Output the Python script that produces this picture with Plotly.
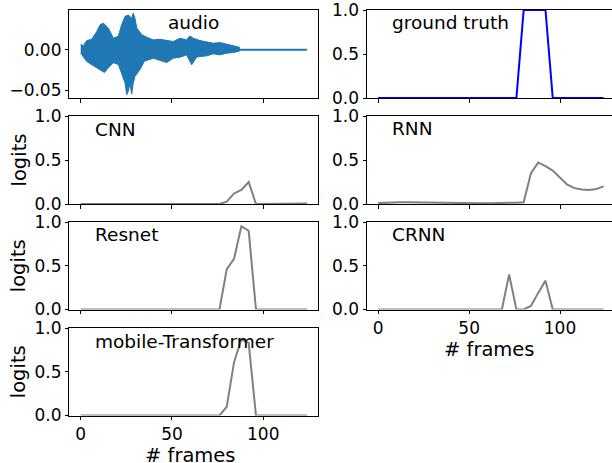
import plotly.graph_objects as go

# ---------------- data ----------------
frames = [0, 4, 8, 12, 16, 20, 24, 28, 32, 36, 40, 44, 48, 52, 56, 60,
          64, 68, 72, 76, 80, 84, 88, 92, 96, 100, 104, 108, 112, 116, 120, 124]

ground_truth = [0]*20 + [1, 1, 1, 1] + [0]*8

cnn = [0, 0, 0, 0, 0, 0, 0, 0, 0, 0, 0, 0, 0, 0, 0, 0,
       0, 0, 0, 0, 0.027, 0.12, 0.16, 0.25, 0, 0, 0, 0, 0, 0.002, 0.004, 0.005]

rnn = [0.01, 0.015, 0.02, 0.02, 0.02, 0.018, 0.016, 0.015, 0.013, 0.012, 0.01, 0.01,
       0.008, 0.008, 0.008, 0.008, 0.008, 0.01, 0.014, 0.015,
       0.02, 0.35, 0.47, 0.43, 0.38, 0.30, 0.22, 0.18, 0.165, 0.16, 0.17, 0.20]

resnet = [0, 0, 0, 0, 0, 0, 0, 0, 0, 0, 0, 0, 0, 0, 0, 0,
          0, 0, 0, 0, 0.46, 0.58, 0.95, 0.90, 0, 0, 0, 0, 0, 0.003, 0.005, 0]

crnn = [0, 0, 0, 0, 0, 0, 0, 0, 0, 0, 0, 0, 0, 0, 0, 0,
        0, 0, 0.40, 0, 0, 0.04, 0.19, 0.33, 0, 0, 0, 0, 0, 0, 0, 0]

transformer = [0, 0, 0.004, 0.005, 0.002, 0, 0, 0, 0, 0, 0, 0, 0, 0, 0, 0,
               0, 0, 0, 0, 0.10, 0.61, 0.87, 0.83, 0, 0, 0, 0, 0, 0, 0, 0]

# audio waveform envelope (in frame units)
audio_up_x = [0, 1.4, 3.3, 6.0, 8.75, 10.6, 12.4, 15.1, 17.9, 20.6, 22.4, 24.3, 26.1,
              27.9, 28.8, 29.7, 30.7, 33.4, 36.1, 39.8, 43.4, 47.1, 50.7, 54.4, 58.0,
              59.8, 61.7, 65.3, 69.0, 72.6, 76.3, 79.9, 83.6, 86.9]
audio_up = [0.007, 0.0049, 0.0115, 0.013, 0.0225, 0.031, 0.033, 0.027, 0.0144, 0.0168,
            0.031, 0.0414, 0.043, 0.039, 0.0455, 0.039, 0.027, 0.0189, 0.0156, 0.0123,
            0.0131, 0.0115, 0.0103, 0.0144, 0.0123, 0.0172, 0.0144, 0.0115, 0.0103,
            0.0082, 0.009, 0.007, 0.0049, 0.0033]
audio_lo_x = [0, 3.3, 6.0, 8.75, 10.6, 13.0, 15.1, 17.9, 20.6, 22.4, 24.3, 25.2, 26.1,
              27.0, 27.9, 28.8, 29.7, 32.5, 34.9, 39.8, 43.4, 47.1, 50.7, 54.4, 58.0,
              60.8, 63.5, 65.3, 69.0, 72.6, 76.3, 79.9, 83.6, 86.9]
audio_lo = [-0.0041, -0.0144, -0.018, -0.0225, -0.0246, -0.028, -0.022, -0.016, -0.018,
            -0.028, -0.041, -0.0553, -0.0508, -0.041, -0.0545, -0.041, -0.0328, -0.0242,
            -0.0139, -0.0103, -0.0131, -0.0156, -0.0103, -0.009, -0.0062, -0.0185,
            -0.009, -0.0082, -0.0074, -0.0049, -0.0062, -0.0041, -0.0033, -0.0016]
audio_tail_x = [86.9, 124]
audio_tail = [0, 0]

x_ticks = [0, 50, 100]
logit_ticks = [0.0, 0.5, 1.0]
logit_labels = ["0.0", "0.5", "1.0"]
audio_ticks = [-0.05, 0.0]
audio_labels = ["\u22120.05", "0.00"]

titles = ["audio", "ground truth", "CNN", "RNN", "Resnet", "CRNN", "mobile-Transformer"]

# ---------------- layout geometry ----------------
W, H = 612, 463
FONT = "DejaVu Sans"
left_dom = [69.4 / W, 318.4 / W]
right_dom = [367.0 / W, 1.0]
rows_px = [(10, 98), (116, 204), (222, 309.5), (328, 415.5)]
row_dom = [[1 - b / H, 1 - t / H] for (t, b) in rows_px]

GRAY = "#808080"
fig = go.Figure()

# audio
fig.add_trace(go.Scatter(x=audio_up_x + audio_lo_x[::-1], y=audio_up + audio_lo[::-1],
                         fill="toself", fillcolor="#1f77b4", mode="lines",
                         line=dict(color="#1f77b4", width=1), xaxis="x", yaxis="y",
                         showlegend=False))
fig.add_trace(go.Scatter(x=audio_tail_x, y=audio_tail, mode="lines",
                         line=dict(color="#1f77b4", width=2), xaxis="x", yaxis="y",
                         showlegend=False))
# ground truth
fig.add_trace(go.Scatter(x=frames, y=ground_truth, mode="lines",
                         line=dict(color="#0000ff", width=2), xaxis="x2", yaxis="y2",
                         showlegend=False))
series = [(cnn, 3), (rnn, 4), (resnet, 5), (crnn, 6), (transformer, 7)]
for vals, k in series:
    fig.add_trace(go.Scatter(x=frames, y=vals, mode="lines",
                             line=dict(color=GRAY, width=2), xaxis=f"x{k}", yaxis=f"y{k}",
                             showlegend=False))

tickfont = dict(family=FONT, size=17, color="black")
common = dict(showline=True, linecolor="black", linewidth=1, ticks="outside",
              ticklen=3.5, tickwidth=1, tickcolor="black", showgrid=False,
              zeroline=False, tickfont=tickfont, fixedrange=True, automargin=False,
              ticklabeloverflow="allow")

layout = dict(width=W, height=H, margin=dict(l=0, r=0, t=0, b=0, autoexpand=False),
              paper_bgcolor="white", plot_bgcolor="white", showlegend=False)

panel_pos = {1: (0, 0), 2: (1, 0), 3: (0, 1), 4: (1, 1), 5: (0, 2), 6: (1, 2), 7: (0, 3)}
for k, (col, row) in panel_pos.items():
    xn = "xaxis" if k == 1 else f"xaxis{k}"
    yn = "yaxis" if k == 1 else f"yaxis{k}"
    xa = "x" if k == 1 else f"x{k}"
    ya = "y" if k == 1 else f"y{k}"
    show_xlabels = k in (6, 7)
    if col == 0:
        xr = [-6.2, 130.2]
        dom = left_dom
    else:
        xr = [-6.2, 128.6]
        dom = right_dom
    layout[xn] = dict(common, domain=dom, range=xr, anchor=ya, mirror=True,
                      tickvals=x_ticks, showticklabels=show_xlabels)
    if k == 1:
        yrange = [-0.0594, 0.0492]
        tv, tt = audio_ticks, audio_labels
    else:
        yrange = [0, 1]
        tv, tt = logit_ticks, logit_labels
    layout[yn] = dict(common, domain=row_dom[row], range=yrange, anchor=xa,
                      mirror=(col == 0), tickvals=tv, ticktext=tt)

ann = []
title_pos = [(193.7, 23, "center"), (390, 23, "left"), (93, 129, "left"),
             (390, 128.5, "left"), (93, 234.5, "left"), (390, 234.5, "left"),
             (93, 341.5, "left")]
for t, (px, py, xa) in zip(titles, title_pos):
    ann.append(dict(text=t, x=px / W, y=1 - py / H, xref="paper", yref="paper",
                    xanchor=xa, yanchor="middle", showarrow=False,
                    font=dict(family=FONT, size=18.5, color="black")))
for (t, b) in rows_px[1:]:
    ann.append(dict(text="logits", x=18.5 / W, y=1 - (t + b) / 2 / H, xref="paper",
                    yref="paper", xanchor="center", yanchor="middle", textangle=-90,
                    showarrow=False, font=dict(family=FONT, size=19.5, color="black")))
for px, py in [(190, 455), (489, 349)]:
    ann.append(dict(text="# frames", x=px / W, y=1 - py / H, xref="paper", yref="paper",
                    xanchor="center", yanchor="middle", showarrow=False,
                    font=dict(family=FONT, size=19.5, color="black")))
layout["annotations"] = ann

fig.update_layout(**layout)
fig.write_html("out.html", config={"displayModeBar": False},
               post_script="document.body.style.margin='0';document.body.style.overflow='hidden';")
